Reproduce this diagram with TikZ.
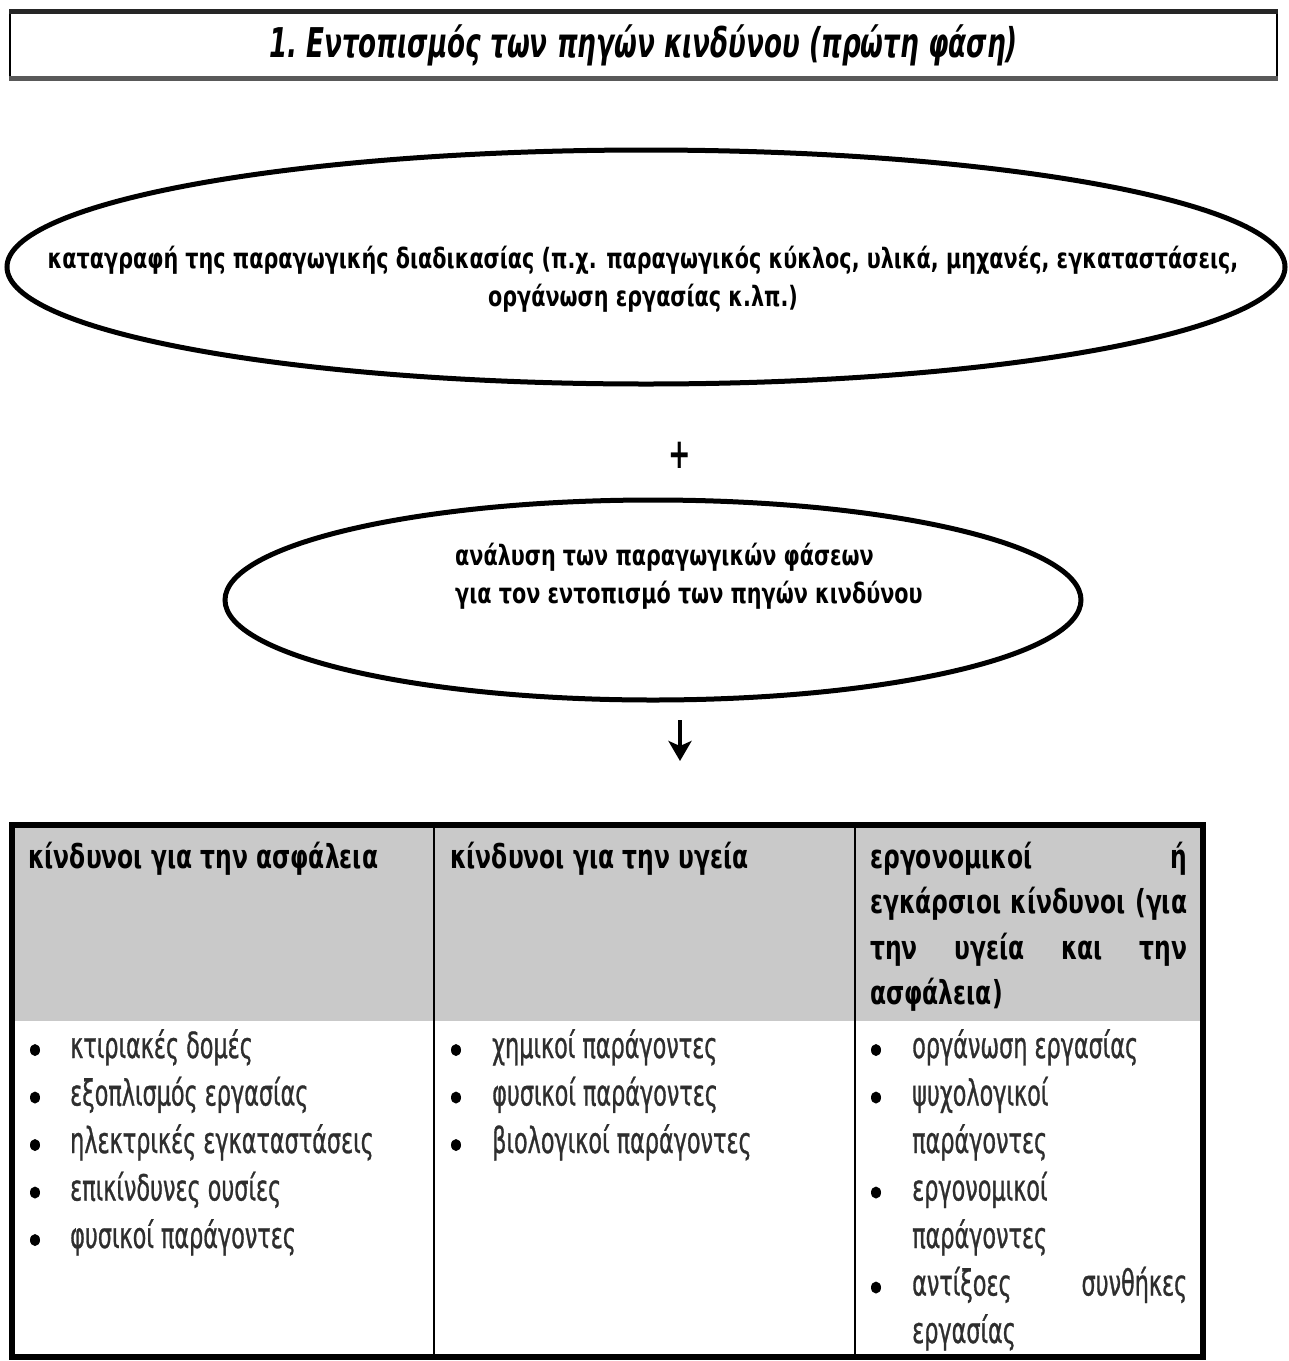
\documentclass[tikz,border=0pt]{standalone}
\usepackage{fontspec}
\setmainfont{DejaVu Sans}
\newfontfamily\titlefont{DejaVu Sans}[FakeStretch=0.64]
\newfontfamily\ovalfont{DejaVu Sans}[FakeStretch=0.74]
\newfontfamily\hdrfont{DejaVu Sans}[FakeStretch=0.71]
\newfontfamily\itemfont{DejaVu Sans}[FakeStretch=0.62,FakeBold=0.8]
\usetikzlibrary{shapes.geometric,arrows.meta}
\definecolor{hdrgray}{HTML}{C9C9C9}
\definecolor{bodytxt}{HTML}{2E2E2E}
\begin{document}
\begin{tikzpicture}[x=1pt,y=-1pt,
  oval/.style={ellipse,draw,line width=5pt,inner sep=0pt},
  ovaltxt/.style={font=\ovalfont\fontsize{28}{38}\selectfont\bfseries,inner sep=0pt},
  hdr/.style={font=\hdrfont\fontsize{33}{46}\selectfont\bfseries,anchor=base west,inner sep=0pt},
  item/.style={font=\itemfont\fontsize{36}{46}\selectfont,text=bodytxt,anchor=base west,inner sep=0pt},
  bul/.style={ellipse,fill=black,inner sep=0pt,minimum width=10pt,minimum height=12pt},
  flow/.style={line width=4.5pt,-{Stealth[length=20pt,width=23pt,inset=5pt]}}
]
\useasboundingbox (0,0) rectangle (1289,1361);

% title
\node[draw,line width=2pt,minimum width=1267pt,minimum height=65pt,inner sep=0pt,
      font=\titlefont\fontsize{41}{50}\selectfont\bfseries\itshape] (title) at (643.5,45)
      {1.\ Εντοπισμός των πηγών κινδύνου (πρώτη φάση)};
\draw[line width=4.5pt,black!85] (title.north west) -- (title.north east);
\draw[line width=4.5pt,black!65] (title.south west) -- (title.south east);

% first ellipse
\node[oval,minimum width=1278pt,minimum height=234pt] (e1) at (646,267) {};
\node[ovaltxt,align=center] (t1) at (643,279)
  {καταγραφή της παραγωγικής διαδικασίας (π.χ. παραγωγικός κύκλος, υλικά, μηχανές, εγκαταστάσεις,\\οργάνωση εργασίας κ.λπ.)};

\node[font=\titlefont\fontsize{42}{42}\selectfont\bfseries,inner sep=0pt] (plus) at (680,455) {+};

% second ellipse
\node[oval,minimum width=856pt,minimum height=200pt] (e2) at (653,600) {};
\node[ovaltxt,align=left,anchor=west] (t2) at (455,576)
  {ανάλυση των παραγωγικών φάσεων\\για τον εντοπισμό των πηγών κινδύνου};

\coordinate (a1) at (680,720);
\coordinate (a2) at (680,761);
\draw[flow] (a1) -- (a2);

% table
\fill[hdrgray] (12,825) rectangle (1203,1021);
\draw[line width=2pt] (434,825) -- (434,1357);
\draw[line width=2pt] (855,825) -- (855,1357);
\node[draw,line width=6pt,minimum width=1191pt,minimum height=532pt,inner sep=0pt] (tab) at (607.5,1091) {};

% headers
\node[hdr] (h1) at (28,868) {κίνδυνοι για την ασφάλεια};
\node[hdr] (h2) at (450,868) {κίνδυνοι για την υγεία};
\node[hdr] (h3a) at (870,868) {\makebox[317pt][s]{εργονομικοί\hfill ή}};
\node[hdr] (h3b) at (870,913.5) {\makebox[317pt][s]{εγκάρσιοι κίνδυνοι (για}};
\node[hdr] (h3c) at (870,959) {\makebox[317pt][s]{την υγεία και την}};
\node[hdr] (h3d) at (870,1004.5) {ασφάλεια)};

% bullets
\foreach \bx/\by/\bn in {35/1050/b1a,35/1097.5/b1b,35/1145/b1c,35/1192.5/b1d,35/1240/b1e,
  456/1050/b2a,456/1097.5/b2b,456/1145/b2c,
  876/1050/b3a,876/1097.5/b3b,876/1192.5/b3c,876/1287.5/b3d}
  \node[bul] (\bn) at (\bx,\by) {};

% column 1
\node[item] (c1a) at (70,1058) {κτιριακές δομές};
\node[item] (c1b) at (70,1105.5) {εξοπλισμός εργασίας};
\node[item] (c1c) at (70,1153) {ηλεκτρικές εγκαταστάσεις};
\node[item] (c1d) at (70,1200.5) {επικίνδυνες ουσίες};
\node[item] (c1e) at (70,1248) {φυσικοί παράγοντες};

% column 2
\node[item] (c2a) at (492,1058) {χημικοί παράγοντες};
\node[item] (c2b) at (492,1105.5) {φυσικοί παράγοντες};
\node[item] (c2c) at (492,1153) {βιολογικοί παράγοντες};

% column 3
\node[item] (c3a) at (912,1058) {οργάνωση εργασίας};
\node[item] (c3b) at (912,1105.5) {ψυχολογικοί};
\node[item] (c3c) at (912,1153) {παράγοντες};
\node[item] (c3d) at (912,1200.5) {εργονομικοί};
\node[item] (c3e) at (912,1248) {παράγοντες};
\node[item] (c3f) at (912,1295.5) {\makebox[275pt][s]{αντίξοες\hfill συνθήκες}};
\node[item] (c3g) at (912,1343) {εργασίας};
\end{tikzpicture}
\end{document}
